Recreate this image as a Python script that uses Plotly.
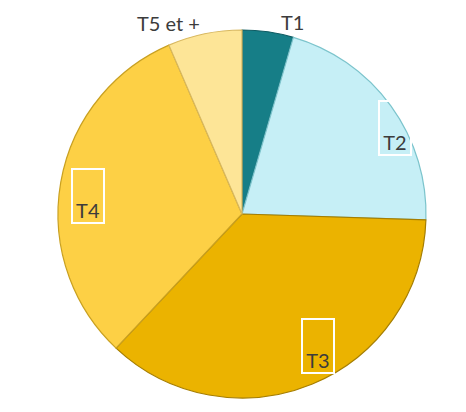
import plotly.graph_objects as go

labels = ["T1", "T2", "T3", "T4", "T5 et +"]
values = [4.5, 21, 36.5, 31.5, 6.5]
colors = ["#167e87", "#c6eff6", "#ebb300", "#fdd045", "#fde597"]
edge_colors = ["#0e5c63", "#7cc4cc", "#a67e00", "#c9a020", "#d8b860"]

W, H = 466, 412
OFF = 8  # page body margin
cx, cy, r = 242 - OFF, 214 - OFF, 184

fig = go.Figure(go.Pie(
    labels=labels, values=values, sort=False, direction="clockwise", rotation=0,
    marker=dict(colors=colors, line=dict(color=edge_colors, width=1.2)),
    textinfo="none", hoverinfo="label+value", showlegend=False,
    domain=dict(x=[(cx - r) / W, (cx + r) / W], y=[1 - (cy + r) / H, 1 - (cy - r) / H]),
))

font = dict(family="Lato, Carlito, Open Sans, sans-serif", size=20, color="#3c3c3c")
# outside labels
fig.add_annotation(text=labels[0], x=(292 - OFF) / W, y=1 - (22 - OFF) / H, xref="paper", yref="paper",
                   showarrow=False, font=font, xanchor="center", yanchor="middle", borderpad=0)
fig.add_annotation(text=labels[4], x=(168 - OFF) / W, y=1 - (23 - OFF) / H, xref="paper", yref="paper",
                   showarrow=False, font=font, xanchor="center", yanchor="middle", borderpad=0)
# boxed inside labels: (label index, x center, y top)
boxed = [(1, 395, 100), (3, 88, 168), (2, 318, 318)]
for i, bx, by in boxed:
    fig.add_annotation(text=labels[i], x=(bx - OFF) / W, y=1 - (by - OFF) / H, xref="paper", yref="paper",
                       showarrow=False, font=font, xanchor="center", yanchor="top",
                       width=30, height=52, valign="bottom", align="center",
                       bordercolor="white", borderwidth=2, borderpad=0)

fig.update_layout(width=W, height=H, margin=dict(l=0, r=0, t=0, b=0),
                  paper_bgcolor="white", plot_bgcolor="white")
fig.write_html("out.html")
